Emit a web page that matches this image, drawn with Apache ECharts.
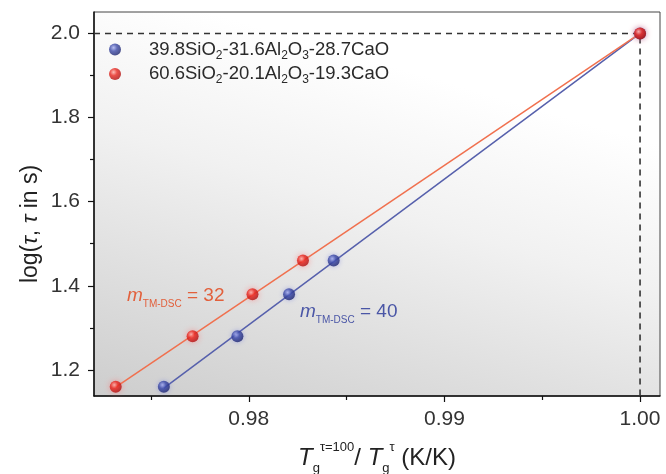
<!DOCTYPE html>
<html>
<head>
<meta charset="utf-8">
<script src="https://cdn.jsdelivr.net/npm/echarts@6/dist/echarts.min.js"></script>
<style>html,body{margin:0;padding:0;background:#fff}#c{width:666px;height:474px}</style>
</head>
<body>
<div id="c"></div>
<script>
// ---- data ----
var seriesNames = ['39.8SiO2-31.6Al2O3-28.7CaO', '60.6SiO2-20.1Al2O3-19.3CaO'];
var blueX = [0.97566, 0.97942, 0.98206, 0.98434, 1.0];
var blueY = [1.16, 1.28, 1.38, 1.46, 2.0];
var redX = [0.9732, 0.97713, 0.98019, 0.98277, 1.0];
var redY = [1.16, 1.28, 1.38, 1.46, 2.0];
var xMajorTicks = [0.98, 0.99, 1.00];
var xMinorTicks = [0.975, 0.985, 0.995];
var yMajorTicks = [1.2, 1.4, 1.6, 1.8, 2.0];
var yMinorTicks = [1.3, 1.5, 1.7, 1.9];
var xRange = [0.97209, 1.00102];
var yRange = [1.138, 2.051];
var refPoint = [1.0, 2.0];

function pts(xs, ys) { return xs.map(function (x, i) { return [x, ys[i]]; }); }
function fit(xs, ys) {
  var n = xs.length, sx = 0, sy = 0, sxx = 0, sxy = 0;
  for (var i = 0; i < n; i++) { sx += xs[i]; sy += ys[i]; sxx += xs[i] * xs[i]; sxy += xs[i] * ys[i]; }
  var b = (n * sxy - sx * sy) / (n * sxx - sx * sx);
  var a = (sy - b * sx) / n;
  var x0 = Math.min.apply(null, xs), x1 = Math.max.apply(null, xs);
  return [[x0, a + b * x0], [x1, a + b * x1]];
}

var FONT = '"Liberation Sans", Arial, sans-serif';
var redBall = { type: 'radial', x: 0.38, y: 0.35, r: 0.65, colorStops: [{ offset: 0, color: '#ffb0a8' }, { offset: 0.45, color: '#e8261e' }, { offset: 1, color: '#b01010' }] };
var blueBall = { type: 'radial', x: 0.38, y: 0.35, r: 0.65, colorStops: [{ offset: 0, color: '#a8b0f0' }, { offset: 0.45, color: '#3c4aa8' }, { offset: 1, color: '#1e2670' }] };

var legendRich = {
  sp: { width: 23, fontSize: 18, lineHeight: 24 },
  n: { fontSize: 18.5, lineHeight: 24, color: '#2a2a2a', fontFamily: FONT },
  s: { fontSize: 12, lineHeight: 24, verticalAlign: 'bottom', color: '#2a2a2a', fontFamily: FONT }
};
function legendFmt(name) {
  // digits following SiO / Al / O are subscripts
  var out = '{sp| }';
  var re = /(SiO|Al|O)(\d)(?=\D|$)/g;
  var last = 0, m;
  while ((m = re.exec(name)) !== null) {
    out += '{n|' + name.slice(last, m.index) + m[1] + '}{s|' + m[2] + '}';
    last = m.index + m[0].length;
  }
  out += '{n|' + name.slice(last) + '}';
  return out;
}

var chart = echarts.init(document.getElementById('c'));
chart.setOption({
  animation: false,
  backgroundColor: '#ffffff',
  grid: {
    left: 94, right: 6, top: 12, bottom: 78, outerBoundsMode: 'none', containLabel: false,
    show: true, borderColor: '#444', borderWidth: 1,
    backgroundColor: { type: 'linear', x: 0.2, y: 0, x2: 0, y2: 1, colorStops: [{ offset: 0, color: '#ffffff' }, { offset: 0.35, color: '#f1f1f1' }, { offset: 1, color: '#cdcdcd' }] }
  },
  legend: {
    orient: 'vertical', left: 109, top: 40, padding: 0, itemWidth: 12, itemHeight: 12, itemGap: 3,
    data: seriesNames, formatter: legendFmt,
    textStyle: { rich: legendRich }
  },
  xAxis: [{
    type: 'value', min: xRange[0], max: xRange[1],
    axisLine: { show: true, lineStyle: { color: '#111', width: 1.5 } },
    axisTick: { show: true, length: 6, inside: false, customValues: xMajorTicks, lineStyle: { color: '#111', width: 1.2 } },
    axisLabel: { customValues: xMajorTicks, margin: 13, fontSize: 21, color: '#333', fontFamily: FONT, formatter: function (v) { return v.toFixed(2); } },
    splitLine: { show: false },
    name: '{t|T}{g|g}{sp|τ=100}{n|/ }{t|T}{g|g}{sp|τ}{n| (K/K)}',
    nameLocation: 'middle', nameGap: 45,
    nameTextStyle: {
      rich: {
        t: { fontSize: 24, fontStyle: 'italic', color: '#222', fontFamily: FONT, lineHeight: 34 },
        g: { fontSize: 13, color: '#222', verticalAlign: 'bottom', fontFamily: FONT, lineHeight: 34 },
        sp: { fontSize: 13, color: '#222', verticalAlign: 'top', fontFamily: FONT, lineHeight: 34 },
        n: { fontSize: 24, color: '#222', fontFamily: FONT, lineHeight: 34 }
      }
    }
  }, {
    type: 'value', min: xRange[0], max: xRange[1], position: 'bottom',
    axisLine: { show: false },
    axisTick: { show: true, length: 4, customValues: xMinorTicks, lineStyle: { color: '#111', width: 1.2 } },
    axisLabel: { show: false }, splitLine: { show: false }
  }],
  yAxis: [{
    type: 'value', min: yRange[0], max: yRange[1],
    axisLine: { show: true, lineStyle: { color: '#111', width: 1.5 } },
    axisTick: { show: true, length: 6, customValues: yMajorTicks, lineStyle: { color: '#111', width: 1.2 } },
    axisLabel: { customValues: yMajorTicks, margin: 14, fontSize: 21, color: '#333', fontFamily: FONT, formatter: function (v) { return v.toFixed(1); } },
    splitLine: { show: false }
  }, {
    type: 'value', min: yRange[0], max: yRange[1], position: 'left',
    axisLine: { show: false },
    axisTick: { show: true, length: 4, customValues: yMinorTicks, lineStyle: { color: '#111', width: 1.2 } },
    axisLabel: { show: false }, splitLine: { show: false }
  }],
  series: [
    {
      name: 'ref', type: 'line', silent: true, symbol: 'none', z: 1,
      data: [[xRange[0], refPoint[1]], refPoint, [refPoint[0], yRange[0]]],
      lineStyle: { color: '#333', width: 1.6, type: [6, 5] }
    },
    {
      name: 'blueFit', type: 'line', symbol: 'none', z: 2, silent: true,
      data: fit(blueX, blueY), lineStyle: { color: '#5660ac', width: 1.5 }
    },
    {
      name: 'redFit', type: 'line', symbol: 'none', z: 2, silent: true,
      data: fit(redX, redY), lineStyle: { color: '#f0704e', width: 1.5 }
    },
    {
      name: seriesNames[0], type: 'scatter', z: 5, symbolSize: 12,
      data: pts(blueX, blueY),
      itemStyle: { color: blueBall, shadowBlur: 5, shadowColor: 'rgba(110,120,220,0.6)' }
    },
    {
      name: seriesNames[1], type: 'scatter', z: 5, symbolSize: 12,
      data: pts(redX, redY),
      itemStyle: { color: redBall, shadowBlur: 6, shadowColor: 'rgba(255,110,110,0.7)' }
    }
  ],
  graphic: [
    {
      type: 'text', x: 31, y: 224, rotation: Math.PI / 2, z: 10,
      style: {
        text: '{n|log(}{i|τ}{n|, }{i|τ}{n| in s)}',
        align: 'center', verticalAlign: 'middle',
        rich: {
          n: { fontSize: 23, fill: '#222', fontFamily: FONT },
          i: { fontSize: 23, fill: '#222', fontStyle: 'italic', fontFamily: FONT }
        }
      }
    },
    {
      type: 'text', left: 127, top: 286, z: 10,
      style: {
        text: '{m|m}{s|TM-DSC}{e| = 32}',
        rich: {
          m: { fontSize: 19, fontStyle: 'italic', fill: '#e2603c', fontFamily: FONT, lineHeight: 28 },
          s: { fontSize: 10, fill: '#e2603c', verticalAlign: 'bottom', fontFamily: FONT, lineHeight: 28 },
          e: { fontSize: 19, fill: '#e2603c', fontFamily: FONT, lineHeight: 28 }
        }
      }
    },
    {
      type: 'text', left: 300, top: 302, z: 10,
      style: {
        text: '{m|m}{s|TM-DSC}{e| = 40}',
        rich: {
          m: { fontSize: 19, fontStyle: 'italic', fill: '#4a56a6', fontFamily: FONT, lineHeight: 28 },
          s: { fontSize: 10, fill: '#4a56a6', verticalAlign: 'bottom', fontFamily: FONT, lineHeight: 28 },
          e: { fontSize: 19, fill: '#4a56a6', fontFamily: FONT, lineHeight: 28 }
        }
      }
    }
  ]
});
</script>
</body>
</html>
